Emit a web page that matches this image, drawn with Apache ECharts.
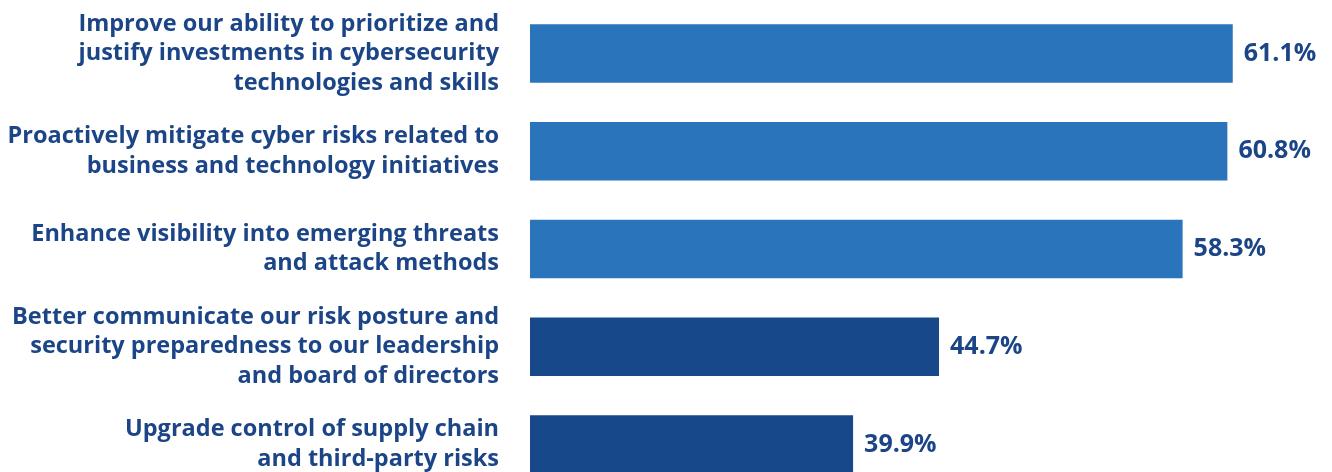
<!DOCTYPE html>
<html>
<head>
<meta charset="utf-8">
<script src="https://cdn.jsdelivr.net/npm/echarts@6/dist/echarts.min.js"></script>
<style>
html,body{margin:0;padding:0;background:#fff;}
#chart{width:1332px;height:472px;}
</style>
</head>
<body>
<div id="chart"></div>
<script>
const categories = [
  "Improve our ability to prioritize and\njustify investments in cybersecurity\ntechnologies and skills",
  "Proactively mitigate cyber risks related to\nbusiness and technology initiatives",
  "Enhance visibility into emerging threats\nand attack methods",
  "Better communicate our risk posture and\nsecurity preparedness to our leadership\nand board of directors",
  "Upgrade control of supply chain\nand third-party risks"
];
const values = [61.1, 60.8, 58.3, 44.7, 39.9];
const barColors = ["#2A74BC", "#2A74BC", "#2A74BC", "#174889", "#174889"];

const chart = echarts.init(document.getElementById('chart'), null, {renderer: 'canvas'});
const textColor = '#1B4586';
const font = '"Open Sans", sans-serif';
chart.setOption({
  animation: false,
  grid: {left: 530, width: 772.6, top: 4.6, height: 488.75, containLabel: false, outerBoundsMode: 'none'},
  xAxis: {
    type: 'value', min: 21.86, max: 65, show: false
  },
  yAxis: {
    type: 'category', inverse: true, data: categories,
    axisLine: {show: false}, axisTick: {show: false},
    axisLabel: {
      margin: 31, color: textColor, fontFamily: font, fontWeight: 'bold',
      fontSize: 23.5, lineHeight: 29.5, align: 'right'
    }
  },
  series: [{
    type: 'bar', barWidth: 58.5, clip: true,
    data: values.map((v, i) => ({value: v, itemStyle: {color: barColors[i]}})),
    label: {
      show: true, position: 'right', distance: 11,
      formatter: p => p.value.toFixed(1) + '%',
      color: textColor, fontFamily: font, fontWeight: 'bold', fontSize: 25
    }
  }]
});
</script>
</body>
</html>
